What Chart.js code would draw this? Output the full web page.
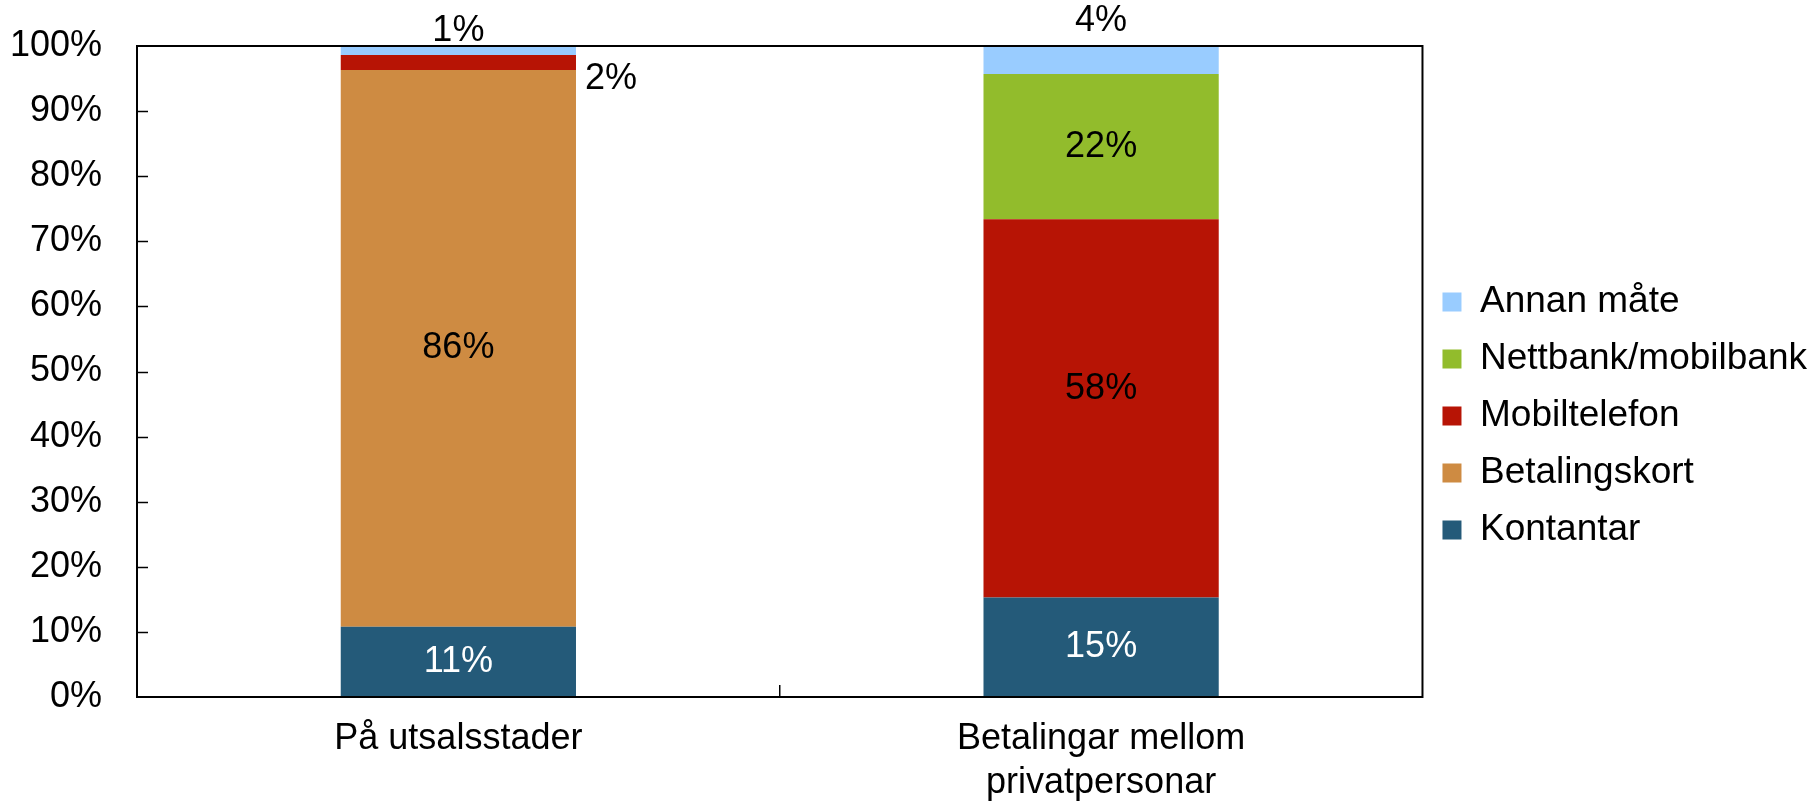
<!DOCTYPE html>
<html lang="no">
<head>
  <meta charset="UTF-8">
  <title>Betalingsmåte</title>
  <script src="https://cdn.jsdelivr.net/npm/chart.js"></script>
  <style>
    body {
      margin: 0;
      background: #fff;
    }
    canvas {
      display: block;
    }
  </style>
</head>
<body>
  <canvas id="payChart" width="1819" height="803"></canvas>

  <script>
    // categories (x axis)
    const categories = [["På utsalsstader"], ["Betalingar mellom", "privatpersonar"]];

    // share in percent
    const kontantar     = [10.8, 15.3];
    const betalingskort = [85.5, 0];
    const mobiltelefon  = [2.3, 58.1];
    const nettbank      = [0, 22.3];
    const annanMate     = [1.4, 4.3];

    const yTicks = [0, 10, 20, 30, 40, 50, 60, 70, 80, 90, 100];

    const FONT = "'Liberation Sans', Arial, sans-serif";

    // where a few of the small labels sit, relative to their segment
    const labelSpots = {
      "4-0": { pos: "above", dy: -15 },
      "4-1": { pos: "above", dy: -25 },
      "2-0": { pos: "right", dx: 9, dy: 16 },
      "2-1": { dy: -19 }
    };

    const frameAndTicks = {
      id: "frameAndTicks",
      afterDatasetsDraw(chart) {
        const { ctx, chartArea: a, scales } = chart;
        ctx.save();
        ctx.strokeStyle = "#000";
        // inward ticks on y axis
        ctx.lineWidth = 1.5;
        yTicks.forEach(v => {
          if (v === 0 || v === 100) return;
          const y = Math.round(scales.y.getPixelForValue(v)) + 0.5;
          ctx.beginPath();
          ctx.moveTo(a.left, y);
          ctx.lineTo(a.left + 11, y);
          ctx.stroke();
        });
        // category divider tick on x axis
        const mid = (scales.x.getPixelForValue(0) + scales.x.getPixelForValue(1)) / 2;
        ctx.beginPath();
        ctx.moveTo(mid, a.bottom);
        ctx.lineTo(mid, a.bottom - 12);
        ctx.stroke();
        // plot frame
        ctx.lineWidth = 2;
        ctx.strokeRect(a.left, a.top, a.right - a.left, a.bottom - a.top);
        ctx.restore();
      }
    };

    const valueLabels = {
      id: "valueLabels",
      afterDatasetsDraw(chart) {
        const { ctx } = chart;
        ctx.save();
        ctx.font = "36px " + FONT;
        chart.data.datasets.forEach((ds, di) => {
          const meta = chart.getDatasetMeta(di);
          meta.data.forEach((bar, i) => {
            const v = ds.data[i];
            if (!v) return;
            const spot = labelSpots[di + "-" + i] || {};
            let x = bar.x;
            let y = (bar.y + bar.base) / 2;
            ctx.textAlign = "center";
            ctx.textBaseline = "middle";
            if (spot.pos === "above") {
              y = bar.y;
            } else if (spot.pos === "right") {
              x = bar.x + bar.width / 2;
              ctx.textAlign = "left";
            }
            x += spot.dx || 0;
            y += spot.dy || 0;
            ctx.fillStyle = di === 0 ? "#fff" : "#000";
            ctx.fillText(Math.round(v) + "%", x, y);
          });
        });
        ctx.restore();
      }
    };

    new Chart(document.getElementById("payChart"), {
      type: "bar",
      data: {
        labels: categories,
        datasets: [
          { label: "Kontantar", data: kontantar, backgroundColor: "#245A79" },
          { label: "Betalingskort", data: betalingskort, backgroundColor: "#CE8B42" },
          { label: "Mobiltelefon", data: mobiltelefon, backgroundColor: "#B71405" },
          { label: "Nettbank/mobilbank", data: nettbank, backgroundColor: "#92BC2C" },
          { label: "Annan måte", data: annanMate, backgroundColor: "#99CCFF" }
        ].map(d => Object.assign(d, { borderWidth: 0, categoryPercentage: 1, barPercentage: 0.366 }))
      },
      options: {
        responsive: false,
        animation: false,
        devicePixelRatio: 1,
        layout: {
          padding: { top: 29, right: 2, bottom: 0, left: 0 }
        },
        scales: {
          x: {
            stacked: true,
            grid: { display: false, drawTicks: false },
            border: { display: false },
            ticks: {
              color: "#000",
              font: { family: FONT, size: 36, lineHeight: 1.22 },
              padding: 20,
              maxRotation: 0,
              autoSkip: false
            },
            afterFit: s => { s.height = 106; }
          },
          y: {
            stacked: true,
            min: 0,
            max: 100,
            grid: { display: false, drawTicks: true, tickLength: 35 },
            border: { display: false },
            afterBuildTicks: s => { s.ticks = yTicks.map(v => ({ value: v })); },
            ticks: {
              color: "#000",
              font: { family: FONT, size: 36 },
              padding: 0,
              callback: v => v + "%"
            },
            afterFit: s => { s.width = 137; }
          }
        },
        plugins: {
          // empty spacer so the legend centres a little higher than the plot
          title: {
            display: true,
            text: " ",
            padding: 0,
            font: { size: 17, lineHeight: 1 }
          },
          legend: {
            position: "right",
            reverse: true,
            labels: {
              color: "#000",
              font: { family: FONT, size: 37 },
              boxWidth: 19,
              boxHeight: 19,
              padding: 20
            }
          },
          tooltip: { enabled: false }
        }
      },
      plugins: [frameAndTicks, valueLabels]
    });
  </script>
</body>
</html>
